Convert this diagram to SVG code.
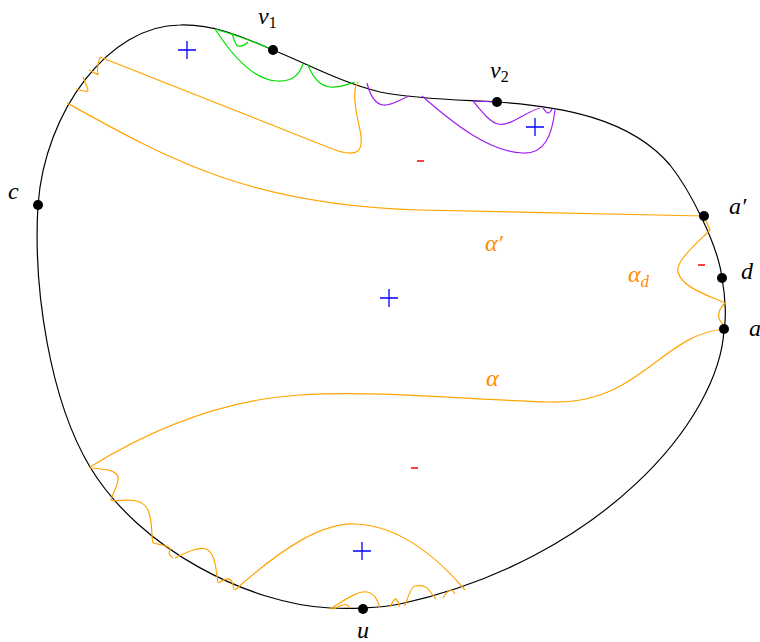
<svg xmlns="http://www.w3.org/2000/svg" width="760" height="642" viewBox="0 0 760 642">
<style>
.b{fill:none;stroke:#000;stroke-width:1.2}
.o{fill:none;stroke:#FFA500;stroke-width:1.2}
.g{fill:none;stroke:#00E000;stroke-width:1.2}
.p{fill:none;stroke:#A020F0;stroke-width:1.2}
.lbl{font-family:"Liberation Serif","DejaVu Serif",serif;font-style:italic;font-size:24px;fill:#000}
.ol{font-family:"Liberation Serif","DejaVu Serif",serif;font-style:italic;font-size:24px;fill:#FF8C00}
.sub{font-size:16px;font-style:normal}
.subi{font-size:17px;font-style:italic}
.plus{stroke:#0000FF;stroke-width:1.3;fill:none}
.minus{stroke:#FF0000;stroke-width:1.5;fill:none}
</style>
<rect width="760" height="642" fill="#fff"/>
<g id="boundary">
<path class="b" d="M 180,25 C 215,24 245,38 273,50 C 310,65 340,82 380,92 C 420,100 470,100 497,102 C 560,106 630,118 670,165 C 690,190 718,245 722,278 C 726,300 726,320 724,329 C 720,420 600,560 400,604 C 380,608 350,609 330,608 C 250,604 140,550 90,467 C 50,400 33,290 38,205 C 45,110 110,25 180,25 Z"/>
</g>
<g id="connectors">
<path class="o" d="M 100,57 L 330,148 C 360,160 364,150 360,130 C 355,108 352,90 358,82"/>
<path class="o" d="M 89,70 C 94,72 99,76 98,74 C 96,68 99,62 100,57"/>
<path class="o" d="M 76,89 C 80,90 88,93 88,90 C 87,86 84,80 83,77"/>
<path class="o" d="M 67,103 C 170,160 250,205 420,210 C 520,213 620,214 704,216"/>
<path class="o" d="M 704,216 L 710,230 C 695,245 675,262 678,272 C 682,288 710,296 725,303 C 718,310 716,318 723,324"/>
<path class="o" d="M 724,329 C 660,335 640,405 550,402 C 470,400 380,390 300,395 C 220,400 150,430 90,467"/>
<path class="o" d="M 90,468 C 105,469 120,470 118,480 C 117,488 112,494 111,501"/>
<path class="o" d="M 112,501 C 125,500 142,497 148,510 C 153,522 151,535 153,543"/>
<path class="o" d="M 153,543 C 160,545 172,546 170,550 C 168,553 170,556 173,558"/>
<path class="o" d="M 175,558 C 185,553 200,545 208,550 C 216,556 216,572 218,583"/>
<path class="o" d="M 219,583 C 222,580 230,576 232,582 C 233,585 234,588 234,590"/>
<path class="o" d="M 235,590 C 280,550 320,523 355,524 C 400,525 440,560 465,590"/>
<path class="o" d="M 330,609 C 345,600 358,590 367,592 C 376,594 378,602 380,608"/>
<path class="o" d="M 333,609 C 338,607 345,603 347,605 C 349,607 350,608 350,608"/>
<path class="o" d="M 390,607 C 392,603 395,598 396,599 C 398,601 399,605 399,607"/>
<path class="o" d="M 405,606 C 408,596 411,587 415,586 C 420,585 425,585 429,590 C 432,594 434,597 436,599"/>
<path class="o" d="M 443,598 C 446,593 449,590 451,590 C 453,590 454,592 455,594"/>
<path class="g" d="M 215,29 C 225,32 255,42 271,49"/>
<path class="g" d="M 215,29 C 235,60 255,80 277,81 C 295,82 300,72 303,64"/>
<path class="g" d="M 232,33 C 234,40 235,45 238,46 C 242,47 246,44 248,42"/>
<path class="g" d="M 308,65 C 312,75 318,86 330,87 C 340,88 348,84 355,82"/>
<path class="p" d="M 367,83 C 370,95 375,104 383,105 C 392,106 402,98 410,96"/>
<path class="p" d="M 422,96 C 455,125 490,152 523,153 C 545,154 552,135 555,110"/>
<path class="p" d="M 473,101 C 482,112 490,122 498,124 C 510,127 525,112 540,108"/>
<path class="p" d="M 473,101 L 497,102"/>
<path class="p" d="M 543,108 C 545,110 546,113 548,113 C 550,113 551,111 552,109"/>
</g>
<g id="points" fill="#000">
<circle id="v1" cx="273" cy="50" r="5"/>
<circle id="v2" cx="497" cy="102" r="5"/>
<circle id="c" cx="38" cy="205" r="5"/>
<circle id="aprime" cx="704" cy="216" r="5"/>
<circle id="d" cx="722" cy="278" r="5"/>
<circle id="a" cx="724" cy="329" r="5"/>
<circle id="u" cx="363" cy="609" r="5"/>
</g>
<g id="labels">
<text class="lbl" x="258" y="24">v<tspan class="sub" dy="4">1</tspan></text>
<text class="lbl" x="490" y="78">v<tspan class="sub" dy="4">2</tspan></text>
<text class="lbl" x="8" y="199">c</text>
<text class="lbl" x="729" y="214">a′</text>
<text class="lbl" x="741" y="279">d</text>
<text class="lbl" x="749" y="336">a</text>
<text class="lbl" x="357" y="638">u</text>
<text class="ol" x="485" y="251">α′</text>
<text class="ol" x="486" y="386">α</text>
<text class="ol" x="628" y="282">α<tspan class="subi" dy="5">d</tspan></text>
</g>
<g id="signs">
<path class="plus" d="M 178,50 H 196 M 187,41 V 59"/>
<path class="plus" d="M 526,127 H 544 M 535,118 V 136"/>
<path class="plus" d="M 380,298 H 398 M 389,289 V 307"/>
<path class="plus" d="M 353,551 H 371 M 362,542 V 560"/>
<path class="minus" d="M 417,161 H 424"/>
<path class="minus" d="M 698,265 H 705"/>
<path class="minus" d="M 411,468 H 418"/>
</g>
</svg>
